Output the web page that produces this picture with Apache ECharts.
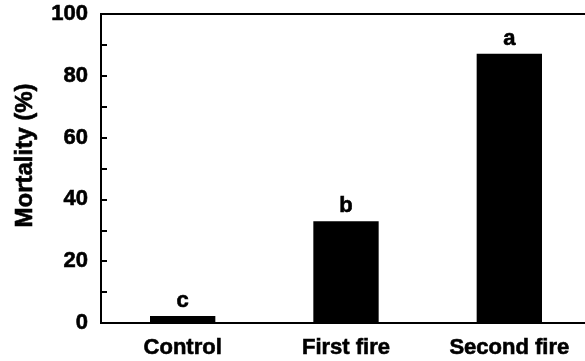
<!DOCTYPE html>
<html>
<head>
<meta charset="utf-8">
<script src="https://cdn.jsdelivr.net/npm/echarts@6/dist/echarts.min.js"></script>
<style>html,body{margin:0;padding:0;background:#fff}#c{width:585px;height:361px}</style>
</head>
<body>
<div id="c"></div>
<script>
var categories = ["Control", "First fire", "Second fire"];
var mortality = [2.3, 32.9, 87.1];
var letters = ["c", "b", "a"];
var yTicks = [0, 20, 40, 60, 80, 100];

var chart = echarts.init(document.getElementById('c'), null, {renderer: 'canvas'});
var font = '"Liberation Sans", Arial, sans-serif';
var thick = {textBorderColor: '#000', textBorderWidth: 0.6};
chart.setOption({
  animation: false,
  grid: {left: 101, top: 14, width: 490, bottom: 38, outerBoundsMode: 'none', containLabel: false, show: true, borderColor: '#000', borderWidth: 2, backgroundColor: 'transparent'},
  xAxis: {
    type: 'category',
    data: categories,
    axisLine: {lineStyle: {color: '#000', width: 2}},
    axisTick: {show: false},
    axisLabel: Object.assign({color: '#000', fontFamily: font, fontWeight: 'bold', fontSize: 22, margin: 14}, thick)
  },
  yAxis: {
    type: 'value',
    min: yTicks[0], max: yTicks[yTicks.length - 1], interval: 20,
    name: 'Mortality (%)',
    nameLocation: 'middle',
    nameGap: 64,
    nameTextStyle: Object.assign({color: '#000', fontFamily: font, fontWeight: 'bold', fontSize: 24, padding: [0, 0, 0, 26]}, thick),
    axisLine: {show: true, lineStyle: {color: '#000', width: 2}},
    axisTick: {show: true, inside: true, length: 6, lineStyle: {color: '#000', width: 2}},
    minorTick: {show: true, splitNumber: 2, length: 6, lineStyle: {color: '#000', width: 2}},
    splitLine: {show: false},
    axisLabel: Object.assign({color: '#000', fontFamily: font, fontWeight: 'bold', fontSize: 22, margin: 13, padding: [6, 0, 0, 0]}, thick)
  },
  series: [{
    type: 'bar',
    data: mortality,
    barWidth: '40%',
    itemStyle: {color: '#000'},
    label: Object.assign({
      show: true, position: 'top', distance: 4,
      color: '#000', fontFamily: font, fontWeight: 'bold', fontSize: 22,
      formatter: function (p) { return letters[p.dataIndex]; }
    }, thick)
  }]
});
</script>
</body>
</html>
